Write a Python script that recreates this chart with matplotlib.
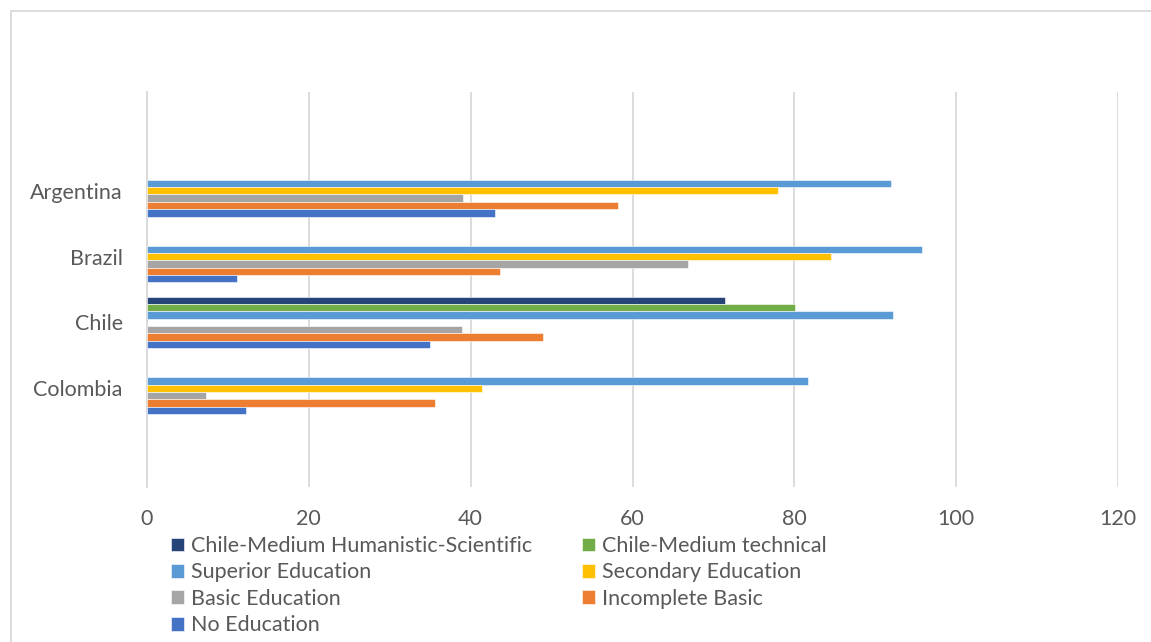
import matplotlib
matplotlib.use("Agg")
import matplotlib.pyplot as plt
from matplotlib.patches import Rectangle
import numpy as np

countries = ["Argentina", "Brazil", "Chile", "Colombia"]
series_names = [
    "Chile-Medium Humanistic-Scientific",
    "Chile-Medium technical",
    "Superior Education",
    "Secondary Education",
    "Basic Education",
    "Incomplete Basic",
    "No Education",
]
colors = ["#264478", "#70AD47", "#5B9BD5", "#FFC000", "#A5A5A5", "#ED7D31", "#4472C4"]

# values per series, in country order (Argentina, Brazil, Chile, Colombia); None = no bar
chile_humanistic = [None, None, 71.4, None]
chile_technical = [None, None, 80.1, None]
superior = [92.0, 95.8, 92.2, 81.7]
secondary = [78.0, 84.5, None, 41.4]
basic = [39.1, 66.8, 38.9, 7.3]
incomplete = [58.2, 43.6, 49.0, 35.6]
no_education = [43.0, 11.1, 35.0, 12.2]

all_series = [chile_humanistic, chile_technical, superior, secondary, basic, incomplete, no_education]

plt.rcParams['font.family'] = ['Lato', 'DejaVu Sans']
text_color = "#595959"
fs = 15.5

W, H = 1151, 642
fig = plt.figure(figsize=(W / 100, H / 100), dpi=100)
ax = fig.add_axes([147 / W, 1 - 487 / H, (1118 - 147) / W, (487 - 92) / H])

ypos = np.arange(len(countries))[::-1]  # Argentina at top
bar_h = 0.112
handles = []
for k, (vals, col) in enumerate(zip(all_series, colors)):
    offset = (3 - k) * bar_h
    ys = []
    xs = []
    for y, v in zip(ypos, vals):
        if v is not None:
            ys.append(y + offset)
            xs.append(v)
    h = ax.barh(ys, xs, height=bar_h, color=col, edgecolor="white", linewidth=0.4,
                label=series_names[k], zorder=3)
    handles.append(h)

ax.set_xlim(0, 120)
ax.set_ylim(-1.5, 4.5)
ax.set_xticks(np.arange(0, 121, 20))
ax.set_yticks(ypos)
ax.set_yticklabels(countries)
ax.grid(axis="x", color="#D9D9D9", linewidth=1.3, zorder=0)
for s in ["top", "right", "bottom"]:
    ax.spines[s].set_visible(False)
ax.spines["left"].set_color("#D9D9D9")
ax.spines["left"].set_linewidth(1.3)
ax.tick_params(axis="both", length=0, labelsize=fs, colors=text_color)
ax.tick_params(axis="x", pad=16)
ax.tick_params(axis="y", pad=17.5)

order = [0, 2, 4, 6, 1, 3, 5]
leg = fig.legend([handles[i] for i in order], [series_names[i] for i in order],
                 ncol=2, loc="upper left", bbox_to_anchor=(171 / W, 1 - 536 / H),
                 frameon=False, fontsize=fs, handlelength=0.6, handleheight=0.6,
                 handletextpad=0.33, columnspacing=2.3, labelspacing=0.3,
                 borderaxespad=0, borderpad=0)
for t in leg.get_texts():
    t.set_color(text_color)

fig.patches.append(Rectangle((11 / W, -0.1), 1.2, 1 - 11 / H + 0.1, transform=fig.transFigure,
                             fill=False, edgecolor="#D9D9D9", linewidth=1.3))

fig.savefig("out.png", dpi=100, facecolor="white")
